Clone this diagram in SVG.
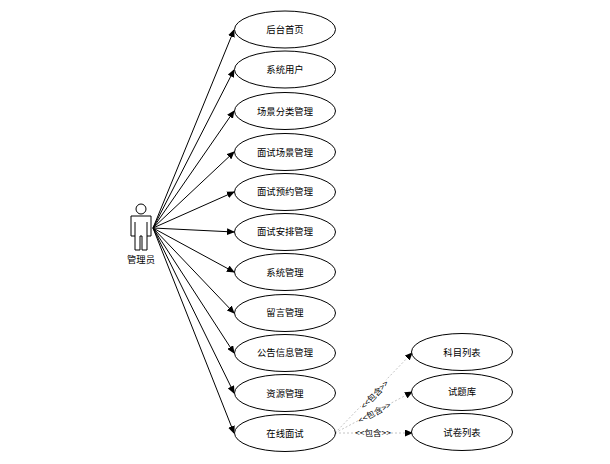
<svg xmlns="http://www.w3.org/2000/svg" width="610" height="464" viewBox="0 0 610 464">
<style>
text{font-family:"Noto Sans CJK SC","Liberation Sans",sans-serif;font-size:9.33px;fill:#000;text-anchor:middle;dominant-baseline:central}
.n ellipse{fill:#fff;stroke:#000;stroke-width:1}
.c{stroke:#000;stroke-width:1;fill:none;marker-end:url(#a)}
.d{stroke:#c4c4c4;stroke-width:1;stroke-dasharray:2 2;fill:none;marker-end:url(#a)}
.b{fill:#fff;stroke:none}
.l{font-size:8.500px}
</style>
<defs><marker id="a" markerWidth="8" markerHeight="7" refX="7" refY="3.500" orient="auto" markerUnits="userSpaceOnUse"><path d="M0 0L8 3.500L0 7Z" fill="#000"/></marker></defs>
<rect width="610" height="464" fill="#fff"/>
<g id="connectors">
<path class="c" d="M153 228L234 30"/><path class="c" d="M153 228L234 70"/><path class="c" d="M153 228L234 111"/><path class="c" d="M153 228L234 152"/><path class="c" d="M153 228L234 192"/><path class="c" d="M153 228L234 232"/><path class="c" d="M153 228L234 272"/><path class="c" d="M153 228L234 313"/><path class="c" d="M153 228L234 353"/><path class="c" d="M153 228L234 393"/><path class="c" d="M153 228L234 433"/>
<path class="d" d="M335 433L412 353"/><path class="d" d="M335 433L412 392"/><path class="d" d="M335 433L412 433"/>
<g transform="translate(374 394) rotate(-46)"><rect class="b" x="-18" y="-5" width="36" height="10"/><text class="l">&lt;&lt;包含&gt;&gt;</text></g>
<g transform="translate(374 412) rotate(-28)"><rect class="b" x="-18" y="-5" width="36" height="10"/><text class="l">&lt;&lt;包含&gt;&gt;</text></g>
<g transform="translate(373 432)"><rect class="b" x="-18" y="-5" width="36" height="10"/><text class="l">&lt;&lt;包含&gt;&gt;</text></g>
</g>
<g id="actor" fill="#fff" stroke="#000">
<circle cx="141" cy="209" r="5"/>
<path d="M131 216H151V236H147V250H142V236H140V250H135V236H131Z" stroke-width="1"/>
<path d="M135 222V236M147 222V236" stroke-width="1"/>
<text x="141" y="258.500" stroke="none">管理员</text>
</g>
<g id="n1" class="n"><ellipse cx="285" cy="29.500" rx="50.500" ry="18.500"/><text x="285" y="29">后台首页</text></g>
<g id="n2" class="n"><ellipse cx="285" cy="69.500" rx="50.500" ry="18.500"/><text x="285" y="69">系统用户</text></g>
<g id="n3" class="n"><ellipse cx="285" cy="111" rx="50.500" ry="18.500"/><text x="285" y="110.500">场景分类管理</text></g>
<g id="n4" class="n"><ellipse cx="285" cy="152" rx="50.500" ry="18.500"/><text x="285" y="151.500">面试场景管理</text></g>
<g id="n5" class="n"><ellipse cx="285" cy="192" rx="50.500" ry="18.500"/><text x="285" y="191">面试预约管理</text></g>
<g id="n6" class="n"><ellipse cx="285" cy="232" rx="50.500" ry="18.500"/><text x="285" y="231">面试安排管理</text></g>
<g id="n7" class="n"><ellipse cx="285" cy="272" rx="50.500" ry="18.500"/><text x="285" y="271.500">系统管理</text></g>
<g id="n8" class="n"><ellipse cx="285" cy="313" rx="50.500" ry="18.500"/><text x="285" y="312">留言管理</text></g>
<g id="n9" class="n"><ellipse cx="285" cy="353" rx="50.500" ry="18.500"/><text x="285" y="352">公告信息管理</text></g>
<g id="n10" class="n"><ellipse cx="285" cy="393" rx="50.500" ry="18.500"/><text x="285" y="392.500">资源管理</text></g>
<g id="n11" class="n"><ellipse cx="285" cy="433" rx="50.500" ry="18.500"/><text x="285" y="433">在线面试</text></g>
<g id="n12" class="n"><ellipse cx="462" cy="352" rx="50.500" ry="18.500"/><text x="462" y="352">科目列表</text></g>
<g id="n13" class="n"><ellipse cx="462" cy="392" rx="50.500" ry="18.500"/><text x="462" y="391">试题库</text></g>
<g id="n14" class="n"><ellipse cx="462" cy="432" rx="50.500" ry="18.500"/><text x="462" y="432">试卷列表</text></g>
</svg>
